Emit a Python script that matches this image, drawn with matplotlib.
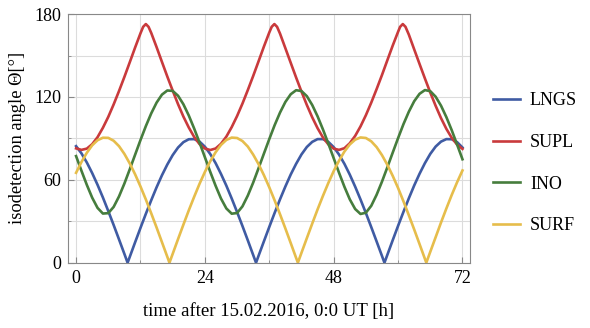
import matplotlib
matplotlib.use('Agg')
import matplotlib.pyplot as plt

plt.rcParams['font.family'] = ['Liberation Serif', 'DejaVu Serif']

# hours after 15.02.2016 0:00 UT
hours = list(range(0, 73))

# LNGS (blue), zeros near 9.6, 33.53, 57.46 h
lngs_t = hours[:10] + [9.6] + hours[10:34] + [33.53] + hours[34:58] + [57.46] + hours[58:]
lngs = [84.4, 79.2, 72.6, 64.9, 56.4, 47.2, 37.4, 27.3, 16.9, 6.4,
        0.0,
        4.2, 14.8, 25.2, 35.4, 45.2, 54.6, 63.3, 71.1, 77.9, 83.4,
        87.3, 89.4, 89.5, 87.7, 84.0, 78.7, 72.1, 64.3, 55.8, 46.5,
        36.7, 26.6, 16.2, 5.6,
        0.0,
        5.0, 15.5, 25.9, 36.1, 45.9, 55.2, 63.9, 71.6, 78.4, 83.8,
        87.5, 89.5, 89.5, 87.5, 83.7, 78.3, 71.6, 63.8, 55.1, 45.8,
        36.0, 25.8, 15.4, 4.9,
        0.0,
        5.7, 16.3, 26.7, 36.8, 46.6, 55.9, 64.4, 72.1, 78.8, 84.1,
        87.7, 89.5, 89.4, 87.3, 83.4]

# SUPL (red), peaks near 13.0, 36.95, 60.88 h
supl_t = (hours[:13] + [12.5, 13, 13.5] + hours[14:37] + [36.45, 36.95, 37.45]
          + hours[38:61] + [60.38, 60.88, 61.38] + hours[62:])
supl = [82.8, 81.7, 82.6, 85.8, 90.9, 97.7, 105.6, 114.6, 124.3, 134.5,
        145.1, 155.8, 166.1,
        170.8, 172.8, 170.8,
        166.4, 156.1, 145.4, 134.8, 124.6, 114.8,
        105.8, 97.9, 91.1, 85.9, 82.7, 81.6, 82.7, 86.1, 91.3, 98.2,
        106.2, 115.2, 125.0, 135.2, 145.8, 156.5, 166.7,
        170.8, 172.8, 170.8,
        165.9, 155.3, 144.7, 134.1, 123.9, 114.2, 105.3, 97.4, 90.7,
        85.7, 82.6, 81.7, 82.9, 86.5, 91.8, 98.7, 106.8, 115.9, 125.7,
        135.9, 146.6, 157.2, 167.2,
        170.8, 172.8, 170.8,
        165.2, 154.5, 143.9, 133.4, 123.2, 113.6, 104.7, 96.9, 90.4,
        85.5, 82.4]

# INO (green)
ino_t = hours
ino = [77.2, 66.6, 56.4, 47.1, 39.7, 35.6, 35.9, 40.4, 48.0, 57.3,
       67.6, 78.2, 88.8, 98.9, 108.1, 115.9, 121.7, 124.7, 124.4, 120.9,
       114.7, 106.6, 97.2, 87.0, 76.4, 65.8, 55.7, 46.5, 39.3, 35.5,
       36.0, 40.8, 48.6, 58.0, 68.4, 79.0, 89.5, 99.6, 108.7, 116.4,
       122.0, 124.9, 124.3, 120.6, 114.2, 106.0, 96.5, 86.3, 75.7, 65.1,
       55.0, 45.9, 38.9, 35.3, 36.2, 41.2, 49.2, 58.7, 69.1, 79.7,
       90.2, 100.3, 109.3, 116.9, 122.3, 125.0, 124.2, 120.2, 113.7, 105.4,
       95.9, 85.5, 74.9]

# SURF (yellow), zeros near 17.4, 41.33, 65.26 h
surf_t = hours[:18] + [17.4] + hours[18:42] + [41.33] + hours[42:66] + [65.26] + hours[66:]
surf = [65.1, 72.9, 79.6, 85.0, 88.7, 90.5, 90.4, 88.3, 84.4, 78.8,
        71.9, 64.0, 55.2, 45.8, 35.8, 25.5, 14.9, 4.3,
        0.0,
        6.4, 17.1, 27.6, 37.9, 47.7, 57.1, 65.7, 73.4, 80.0, 85.3,
        88.9, 90.6, 90.3, 88.1, 84.1, 78.3, 71.4, 63.4, 54.6, 45.1,
        35.1, 24.8, 14.2, 3.5,
        0.0,
        7.2, 17.8, 28.3, 38.6, 48.4, 57.7, 66.3, 73.9, 80.5, 85.6,
        89.1, 90.7, 90.3, 87.9, 83.7, 77.9, 70.9, 62.9, 54.1, 44.5,
        34.4, 24.1, 13.5, 2.8,
        0.0,
        7.9, 18.5, 29.1, 39.3, 49.1, 58.3, 66.8]

series = [
    ('LNGS', lngs_t, lngs, '#3f5ba3'),
    ('SUPL', supl_t, supl, '#c93a3c'),
    ('INO', ino_t, ino, '#467d3d'),
    ('SURF', surf_t, surf, '#e6bd4b'),
]

fig = plt.figure(figsize=(5.9, 3.28), dpi=100)
ax = fig.add_axes([0.1153, 0.199, 0.6813, 0.758])

for name, t, v, c in series:
    ax.plot(t, v, color=c, lw=1.9, label=name, solid_joinstyle='round')

ax.set_xlim(-1.5, 73.4)
ax.set_ylim(0, 180)
ax.set_xticks([0, 24, 48, 72])
ax.set_xticks([12, 36, 60], minor=True)
ax.set_yticks([0, 60, 120, 180])
ax.set_yticks([30, 90, 150], minor=True)
ax.grid(True, which='both', color='#dcdcdc', lw=0.8)
ax.set_axisbelow(True)
ax.tick_params(which='major', direction='in', length=4, width=0.8, color='#888888',
               labelsize=13, pad=5)
ax.tick_params(which='minor', direction='in', length=2, width=0.6, color='#888888')
for s in ax.spines.values():
    s.set_color('#888888')
    s.set_linewidth(0.8)

ax.set_xlabel('time after 15.02.2016, 0:0 UT [h]', fontsize=13.5, labelpad=12)
ax.set_ylabel('isodetection angle \u0398[\u00b0]', fontsize=13.3, labelpad=6)

ax.legend(loc='center left', bbox_to_anchor=(1.057, 0.40), frameon=False,
          borderaxespad=0, borderpad=0,
          fontsize=13, handlelength=1.5, handletextpad=0.55, labelspacing=1.36)

fig.savefig('out.png', dpi=100)
